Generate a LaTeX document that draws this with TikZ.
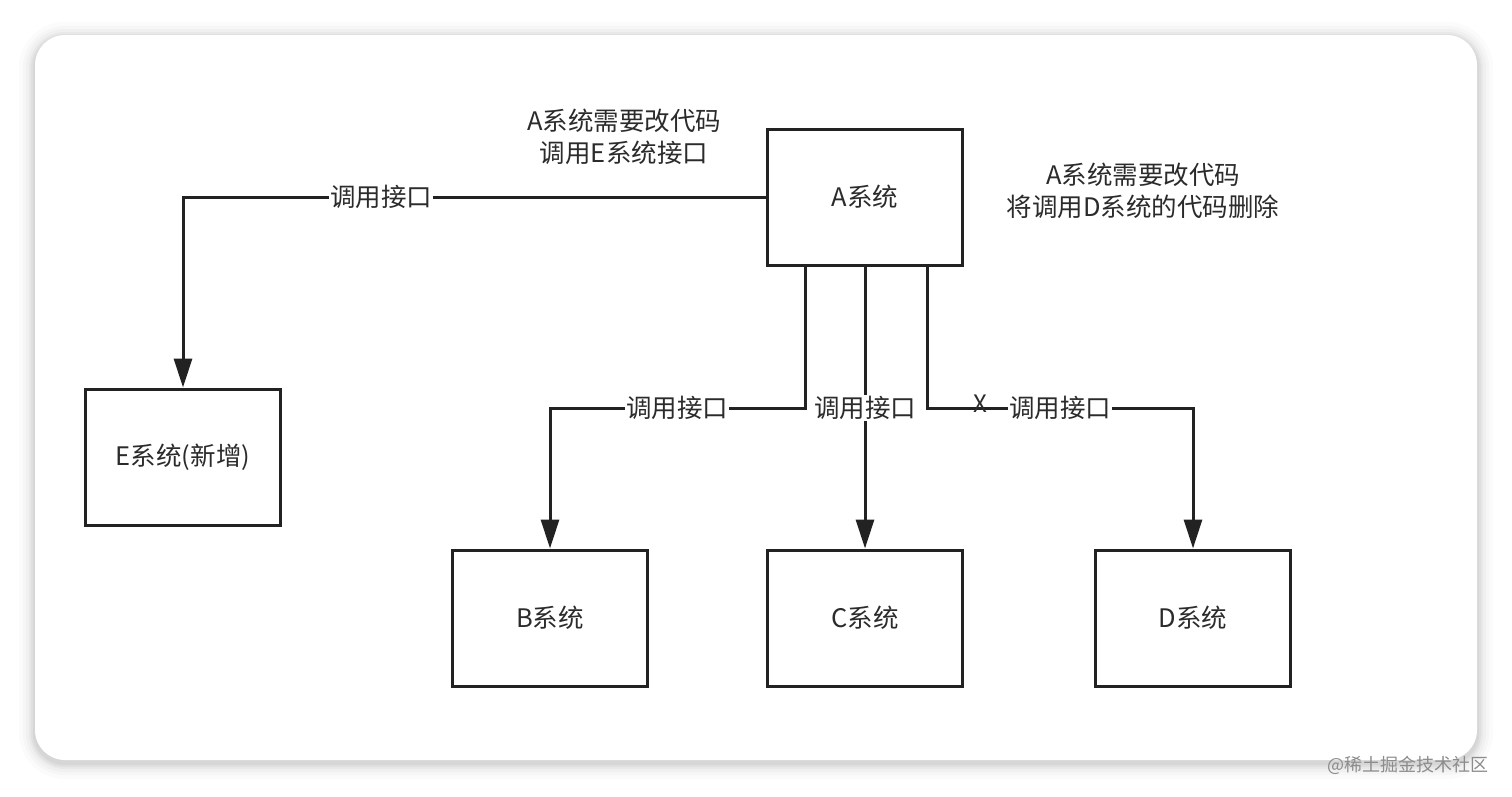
\documentclass[tikz,border=0pt]{standalone}
\usepackage{fontspec}
\setmainfont{Noto Sans CJK SC}
\usetikzlibrary{arrows.meta}
\definecolor{ink}{HTML}{222222}
\definecolor{txt}{HTML}{2B2B2B}
\tikzset{
  sysbox/.style={draw=ink, line width=3pt, fill=white, minimum width=195pt, minimum height=136pt, inner sep=0pt, text=txt, font=\fontsize{25.5}{30}\selectfont},
  conn/.style={draw=ink, line width=3pt, -{Triangle[length=29pt,width=18pt]}},
  lbl/.style={fill=white, inner sep=1pt, text=txt, font=\fontsize{25.5}{30}\selectfont},
  note/.style={align=center, text=txt, font=\fontsize{25.5}{32}\selectfont},
}
\begin{document}
\begin{tikzpicture}[x=1pt,y=-1pt]
\useasboundingbox (0,0) rectangle (1512,796);
\fill[white] (0,0) rectangle (1512,796);
% shadow
\foreach \i/\o in {16/0.015,12/0.02,9/0.025,6/0.03,4/0.035,2/0.04}{
  \fill[black, opacity=\o, rounded corners=30pt+\i pt] (35-\i,35-\i+3) rectangle (1477+\i,760+\i+3);
}
\fill[white, rounded corners=30pt] (35,35) rectangle (1477,760);
% nodes
\node[sysbox] (A) at (865,197) {A系统};
\node[sysbox] (E) at (183,457) {E系统(新增)};
\node[sysbox] (B) at (550,618) {B系统};
\node[sysbox] (C) at (865,618) {C系统};
\node[sysbox] (D) at (1193,618) {D系统};
\coordinate (aB) at (805,266);
\coordinate (aC) at (865,266);
\coordinate (aD) at (927,266);
% connectors
\draw[conn] (A.west) -- (E.north |- A.west) -- (E.north);
\draw[conn] (aB) -- (805,408) -- (B.north |- 0,408) -- (B.north);
\draw[conn] (aC) -- (C.north);
\draw[conn] (aD) -- (927,408) -- (D.north |- 0,408) -- (D.north);
% labels
\node[lbl] (l1) at (381,197) {调用接口};
\node[lbl] (l2) at (677,408) {调用接口};
\node[lbl] (l3) at (865,408) {调用接口};
\node[lbl] (l4) at (1060,408) {调用接口};
\node[text=txt, font=\fontsize{24}{26}\selectfont, inner sep=0pt] (x) at (980,404) {X};
% notes
\node[note] (n1) at (624,137) {A系统需要改代码\\调用E系统接口};
\node[note] (n2) at (1143,191) {A系统需要改代码\\将调用D系统的代码删除};
% watermark
\node[text=black!45, font=\fontsize{18}{20}\selectfont, anchor=east] (wm) at (1492,765) {@稀土掘金技术社区};
\end{tikzpicture}
\end{document}
